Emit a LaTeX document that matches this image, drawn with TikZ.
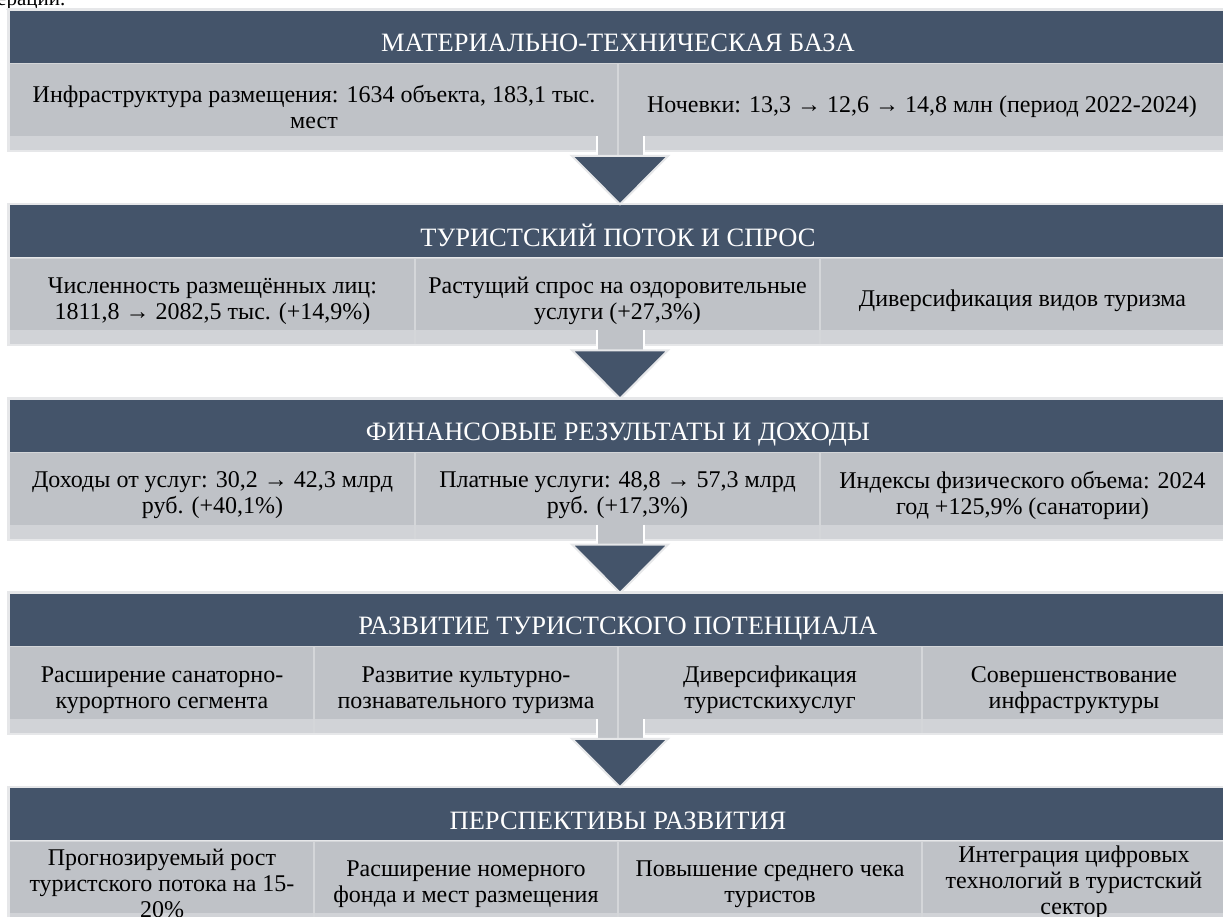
\documentclass[tikz,border=0pt]{standalone}
\usepackage{fontspec}
\setmainfont{Liberation Serif}
\newfontfamily\tnr{Liberation Serif}
\definecolor{hdr}{HTML}{44546A}
\definecolor{cellc}{HTML}{BFC2C7}
\definecolor{stripc}{HTML}{D1D3D7}
\definecolor{borderc}{HTML}{E6E7E9}
\definecolor{divc}{HTML}{D4D6D9}
\tikzset{
  titletxt/.style={anchor=base, inner sep=0pt, text=white, font=\tnr\fontsize{26.5}{30}\selectfont},
  celltxt/.style={align=center, inner sep=0pt, text=black, font=\tnr\fontsize{24}{26}\selectfont},
  divline/.style={draw=divc, line width=2.5pt},
  arrowtri/.style={fill=hdr, draw=borderc, line width=2pt, line join=miter},
}
\newcommand\blockbg[2]{%
  \fill[borderc] (7,#1-2.5) rectangle (1230,#1+141);
  \fill[hdr] (10,#1) rectangle (1230,#1+52);
  \fill[cellc] (10,#1+53.5) rectangle (1230,#1+125);
  \fill[stripc] (10,#1+125) rectangle (1230,#1+139);
  \draw[draw=divc, line width=1pt] (10,#1+53) -- (1230,#1+53);
  \foreach \xx in {#2} {\draw[divline] (\xx,#1+53.5) -- (\xx,#1+139);}
}
\newcommand\arrowdown[3]{%
  \fill[cellc] (597,#1+124) rectangle (644,#1+145);
  \draw[white, line width=1.5pt] (597,#1+125) -- (597,#1+145);
  \draw[white, line width=1.5pt] (644,#1+125) -- (644,#1+145);
  \ifx#3y\draw[divline] (618,#1+124) -- (618,#1+145);\fi
  \filldraw[arrowtri] (572,#1+145) -- (668,#1+145) -- (620,#2-1) -- cycle;
}
\begin{document}
\begin{tikzpicture}[x=1pt,y=-1pt]
\useasboundingbox (0,0) rectangle (1223,917);
\clip (0,0) rectangle (1223,917);
\fill[white] (0,0) rectangle (1223,917);
\node[anchor=base west, inner sep=0pt, font=\tnr\fontsize{21}{24}\selectfont] (prev) at (-3,6) {ерации.};

% backgrounds
\blockbg{11}{618}
\blockbg{205.25}{415,820}
\blockbg{399.5}{415,820}
\blockbg{593.75}{314,618,922}
\blockbg{788}{314,618,922}

% arrows between blocks
\arrowdown{11}{205.25}{y}
\arrowdown{205.25}{399.5}{n}
\arrowdown{399.5}{593.75}{n}
\arrowdown{593.75}{788}{y}

% block 1
\node[titletxt] (t1) at (618,11+41) {МАТЕРИАЛЬНО-ТЕХНИЧЕСКАЯ БАЗА};
\node[celltxt] (c11) at (314,11+96) {Инфраструктура размещения: 1634 объекта, 183,1 тыс.\\мест};
\node[celltxt] (c12) at (922,11+96) {Ночевки: 13,3 → 12,6 → 14,8 млн (период 2022-2024)};

% block 2
\node[titletxt] (t2) at (618,205.25+41) {ТУРИСТСКИЙ ПОТОК И СПРОС};
\node[celltxt] (c21) at (212.5,205.25+96) {Численность размещённых лиц:\\1811,8 → 2082,5 тыс. (+14,9\%)};
\node[celltxt] (c22) at (617.5,205.25+96) {Растущий спрос на оздоровительные\\услуги (+27,3\%)};
\node[celltxt] (c23) at (1022.5,205.25+96) {Диверсификация видов туризма};

% block 3
\node[titletxt] (t3) at (618,399.5+41) {ФИНАНСОВЫЕ РЕЗУЛЬТАТЫ И ДОХОДЫ};
\node[celltxt] (c31) at (212.5,399.5+96) {Доходы от услуг: 30,2 → 42,3 млрд\\руб. (+40,1\%)};
\node[celltxt] (c32) at (617.5,399.5+96) {Платные услуги: 48,8 → 57,3 млрд\\руб. (+17,3\%)};
\node[celltxt] (c33) at (1022.5,399.5+96) {Индексы физического объема: 2024\\год +125,9\% (санатории)};

% block 4
\node[titletxt] (t4) at (618,593.75+41) {РАЗВИТИЕ ТУРИСТСКОГО ПОТЕНЦИАЛА};
\node[celltxt] (c41) at (162,593.75+96) {Расширение санаторно-\\курортного сегмента};
\node[celltxt] (c42) at (466,593.75+96) {Развитие культурно-\\познавательного туризма};
\node[celltxt] (c43) at (770,593.75+96) {Диверсификация\\туристскихуслуг};
\node[celltxt] (c44) at (1074,593.75+96) {Совершенствование\\инфраструктуры};

% block 5
\node[titletxt] (t5) at (618,788+41) {ПЕРСПЕКТИВЫ РАЗВИТИЯ};
\node[celltxt] (c51) at (162,788+95) {Прогнозируемый рост\\туристского потока на 15-\\20\%};
\node[celltxt] (c52) at (466,788+96) {Расширение номерного\\фонда и мест размещения};
\node[celltxt] (c53) at (770,788+96) {Повышение среднего чека\\туристов};
\node[celltxt] (c54) at (1074,788+95) {Интеграция цифровых\\технологий в туристский\\сектор};
\end{tikzpicture}
\end{document}
